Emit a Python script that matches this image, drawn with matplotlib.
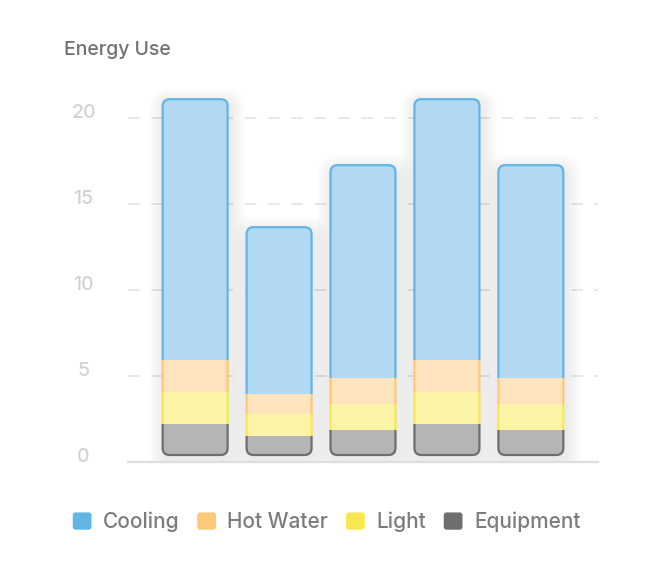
import numpy as np
import matplotlib
matplotlib.use("Agg")
import matplotlib.pyplot as plt
from matplotlib.patches import FancyBboxPatch, Rectangle, Patch
from matplotlib.legend_handler import HandlerPatch
from matplotlib.transforms import ScaledTranslation

plt.rcParams['font.family'] = ['Inter', 'DejaVu Sans']
plt.rcParams['font.weight'] = 'medium'

# data
series = ['Cooling', 'Hot Water', 'Light', 'Equipment']
equipment = [1.82, 1.12, 1.47, 1.82, 1.47]
light = [1.86, 1.28, 1.51, 1.86, 1.51]
hot_water = [1.86, 1.16, 1.51, 1.86, 1.51]
cooling = [15.17, 9.70, 12.38, 15.17, 12.38]
yticks = [0, 5, 10, 15, 20]

# stacking order bottom -> top
stack = [equipment, light, hot_water, cooling]
faces = ['#b5b5b5', '#fbf3a6', '#fde4bc', '#b1daf2']
edges = ['#6e6e6e', '#f8e74f', '#fdc878', '#62b5e5']
legend_cols = {'Cooling': '#62b5e5', 'Hot Water': '#fdc878',
               'Light': '#f8e74f', 'Equipment': '#6e6e6e'}

W, H = 648, 580
fig = plt.figure(figsize=(W / 100, H / 100), dpi=100)
ax = fig.add_axes([128 / W, (H - 462) / H, 470 / W, 385 / H])
ax.set_xlim(-0.8, 4.8)
ax.set_ylim(-0.407, 22.0)

x = np.arange(len(cooling))
bw = 0.774

# pixel scales for the rounded corners
p0 = ax.transData.transform((0, 0))
p1 = ax.transData.transform((1, 1))
px_x = p1[0] - p0[0]
px_y = p1[1] - p0[1]
asp = px_x / px_y
rad = 7 / px_x

totals = np.sum(stack, axis=0)
bottoms = np.vstack([np.zeros(len(x)), np.cumsum(stack, axis=0)[:-1]])

# outline shapes (used for clipping and borders)
def outline(i, **kw):
    return FancyBboxPatch((x[i] - bw / 2, 0), bw, totals[i],
                          boxstyle=f"round,pad=0,rounding_size={rad}",
                          mutation_aspect=asp, transform=ax.transData, **kw)

# soft shadow
shift = ax.transData + ScaledTranslation(2 / 100, -5 / 100, fig.dpi_scale_trans)
for i in range(len(x)):
    for k in range(1, 11):
        pad = k * 1.6 / px_x
        sh = FancyBboxPatch((x[i] - bw / 2, 0), bw, totals[i],
                            boxstyle=f"round,pad={pad},rounding_size={rad + pad}",
                            mutation_aspect=asp, facecolor='black',
                            edgecolor='none', alpha=0.007, zorder=2)
        sh.set_transform(shift)
        ax.add_patch(sh)

clips = [outline(i) for i in range(len(x))]

for s in range(len(stack)):
    bars = ax.bar(x, stack[s], bottom=bottoms[s], width=bw, color=faces[s],
                  linewidth=0, zorder=3)
    for i, b in enumerate(bars):
        b.set_clip_path(clips[i])
        lo = bottoms[s][i] if s > 0 else -5
        hi = bottoms[s][i] + stack[s][i] if s < len(stack) - 1 else 40
        band = Rectangle((x[i] - bw, lo), 2 * bw, hi - lo, transform=ax.transData)
        ed = outline(i, fill=False, edgecolor=edges[s], linewidth=1.6, zorder=4)
        ax.add_patch(ed)
        ed.set_clip_path(band)

# dashed grid lines, drawn a bit lower like in the reference
gtrans = ax.get_yaxis_transform() + ScaledTranslation(0, -6.6 / 100, fig.dpi_scale_trans)
for v in yticks[1:]:
    ax.plot([0, 1], [v, v], transform=gtrans, color='#e8e8e8', lw=1.4,
            dashes=(6, 6), zorder=1)

for sp in ['top', 'right', 'left']:
    ax.spines[sp].set_visible(False)
ax.spines['bottom'].set_color('#dedede')
ax.spines['bottom'].set_linewidth(1.6)
ax.set_xticks([])
ax.set_yticks(yticks)
ax.set_yticklabels([str(v) for v in yticks])
ax.tick_params(axis='y', length=0, pad=32, labelsize=14, labelcolor='#d2d2d2')
for lab in ax.get_yticklabels():
    lab.set_horizontalalignment('center')
    lab.set_verticalalignment('center_baseline')

fig.text(64 / W, (H - 50) / H, 'Energy Use', fontsize=14, color='#707070',
         ha='left', va='center')


class RoundHandler(HandlerPatch):
    def create_artists(self, legend, orig_handle, xdescent, ydescent,
                       width, height, fontsize, trans):
        p = FancyBboxPatch((-xdescent, -ydescent), width, height,
                           boxstyle="round,pad=0,rounding_size=2",
                           facecolor=orig_handle.get_facecolor(),
                           edgecolor='none', transform=trans)
        return [p]


handles = [Patch(facecolor=legend_cols[n]) for n in series]
leg = fig.legend(handles, series, loc='center', bbox_to_anchor=(0.504, (H - 522) / H),
                 ncol=4, frameon=False, fontsize=15, handlelength=0.9,
                 handleheight=0.9, handletextpad=0.55, columnspacing=0.85,
                 handler_map={Patch: RoundHandler()})
for t in leg.get_texts():
    t.set_color('#7c7c7c')

fig.savefig('out.png', dpi=100)
